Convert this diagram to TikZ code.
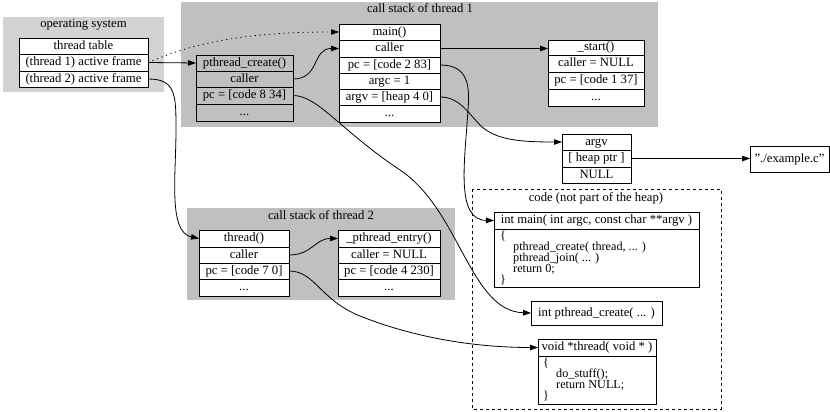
\documentclass[tikz,border=0pt]{standalone}
\usepackage{fontspec}
\setmainfont{Liberation Serif}
\usetikzlibrary{arrows.meta}
\definecolor{osgray}{HTML}{D3D3D3}
\definecolor{stackgray}{HTML}{C0C0C0}
\newcommand\recrow[7]{%
  \node[cellsty, fill=#7, minimum width={(#4-#2)*1pt}, minimum height={(#5-#3)*1pt}] (#1) at ({(#2+#4)/2},{(#3+#5)/2}) {#6};}
\tikzset{
  cellsty/.style={draw=black, line width=0.8pt, inner sep=0pt, outer sep=0pt,
    font=\fontsize{12.7}{14}\selectfont, text height=8.8pt, text depth=2.6pt},
  titlesty/.style={inner sep=0pt, font=\fontsize{12.7}{14}\selectfont},
  codesty/.style={inner sep=0pt, anchor=base west, font=\fontsize{12.2}{13}\selectfont},
  arr/.style={draw=black, line width=0.8pt, -{Triangle[length=8pt,width=5.5pt]}},
}
\begin{document}
\begin{tikzpicture}[x=1pt,y=-1pt]
\useasboundingbox (0,0) rectangle (830,412);
% clusters
\fill[osgray] (3,17) rectangle (164,92);
\node[titlesty] (ostitle) at (83.5,24.5) {operating system};
\fill[stackgray] (181,2) rectangle (658,127);
\node[titlesty] (s1title) at (420,8.5) {call stack of thread 1};
\fill[stackgray] (187,208) rectangle (455,300);
\node[titlesty] (s2title) at (321,215.5) {call stack of thread 2};
\draw[dashed, line width=0.8pt] (472,189) rectangle (721,409);
\node[titlesty] (codetitle) at (596,198) {code (not part of the heap)};
% thread table
\recrow{tt0}{19}{38}{148}{54}{thread table}{white}
\recrow{tt1}{19}{54}{148}{71}{(thread 1) active frame}{white}
\recrow{tt2}{19}{71}{148}{87}{(thread 2) active frame}{white}
% pthread_create frame
\recrow{pc0}{196}{55}{293}{71}{pthread\_create()}{none}
\recrow{pc1}{196}{71}{293}{87}{caller}{none}
\recrow{pc2}{196}{87}{293}{104}{pc = [code 8 34]}{none}
\recrow{pc3}{196}{104}{293}{121}{...}{none}
% main frame
\recrow{m0}{339}{24}{440}{40}{main()}{white}
\recrow{m1}{339}{40}{440}{57}{caller}{white}
\recrow{m2}{339}{57}{440}{73}{pc = [code 2 83]}{white}
\recrow{m3}{339}{73}{440}{89}{argc = 1}{white}
\recrow{m4}{339}{89}{440}{105}{argv = [heap 4 0]}{white}
\recrow{m5}{339}{105}{440}{122}{...}{white}
% _start frame
\recrow{s0}{548}{40}{644}{55}{\_start()}{white}
\recrow{s1}{548}{55}{644}{72}{caller = NULL}{white}
\recrow{s2}{548}{72}{644}{89}{pc = [code 1 37]}{white}
\recrow{s3}{548}{89}{644}{106}{...}{white}
% argv
\recrow{av0}{562}{134}{631}{150}{argv}{white}
\recrow{av1}{562}{150}{631}{167}{[ heap ptr ]}{white}
\recrow{av2}{562}{167}{631}{183}{NULL}{white}
\recrow{ex}{750}{146}{829}{172}{\char34./example.c\char34}{white}
% thread 2 frames
\recrow{th0}{199}{230}{289}{247}{thread()}{white}
\recrow{th1}{199}{247}{289}{263}{caller}{white}
\recrow{th2}{199}{263}{289}{279}{pc = [code 7 0]}{white}
\recrow{th3}{199}{279}{289}{296}{...}{white}
\recrow{pe0}{338}{230}{440}{247}{\_pthread\_entry()}{white}
\recrow{pe1}{338}{247}{440}{263}{caller = NULL}{white}
\recrow{pe2}{338}{263}{440}{279}{pc = [code 4 230]}{white}
\recrow{pe3}{338}{279}{440}{296}{...}{white}
% code boxes
\recrow{mch}{494}{212}{699}{229}{int main( int argc, const char **argv )}{white}
\recrow{mcb}{494}{229}{699}{287}{}{white}
\node[codesty] (mc1) at (500,239.5) {\{};
\node[codesty] (mc2) at (513,250.5) {pthread\_create( thread, ... )};
\node[codesty] (mc3) at (513,261.5) {pthread\_join( ... )};
\node[codesty] (mc4) at (513,272.5) {return 0;};
\node[codesty] (mc5) at (500,283.5) {\}};
\recrow{pcc}{531}{301}{662}{325}{int pthread\_create( ... )}{white}
\recrow{tch}{538}{339}{656}{356}{void *thread( void * )}{white}
\recrow{tcb}{538}{356}{656}{404}{}{white}
\node[codesty] (tc1) at (543,366.5) {\{};
\node[codesty] (tc2) at (556,377.5) {do\_stuff();};
\node[codesty] (tc3) at (556,388.5) {return NULL;};
\node[codesty] (tc4) at (543,399.5) {\}};
% edges
\draw[arr] (tt1.east) -- (pc0.west);
\draw[arr, dash pattern=on 1.2pt off 3.6pt] (tt1.east) .. controls (183,48) and (229,32) .. (m0.west);
\draw[arr] (tt2.east) .. controls (176,79) and (176,95) .. (176,130) .. controls (176,175) and (168,232) .. (th0.west);
\draw[arr] (pc1.east) .. controls (320,79) and (312,48.5) .. (m1.west);
\draw[arr] (pc2.east) .. controls (318,95.5) and (340,130) .. (400,170) .. controls (460,210) and (470,311) .. (pcc.west);
\draw[arr] (m1.east) -- (m1.east -| s0.west);
\draw[arr] (m2.east) .. controls (468,65) and (470,85) .. (468,110) .. controls (465,160) and (455,220) .. (mch.west);
\draw[arr] (m4.east) .. controls (458,97) and (466,110) .. (480,125) .. controls (495,140) and (520,142) .. (av0.west);
\draw[arr] (av1.east) -- (av1.east -| ex.west);
\draw[arr] (th1.east) .. controls (312,255) and (315,238.5) .. (pe0.west);
\draw[arr] (th2.east) .. controls (315,271) and (320,300) .. (360,316) .. controls (410,336) and (470,347.5) .. (tch.west);
\end{tikzpicture}
\end{document}
